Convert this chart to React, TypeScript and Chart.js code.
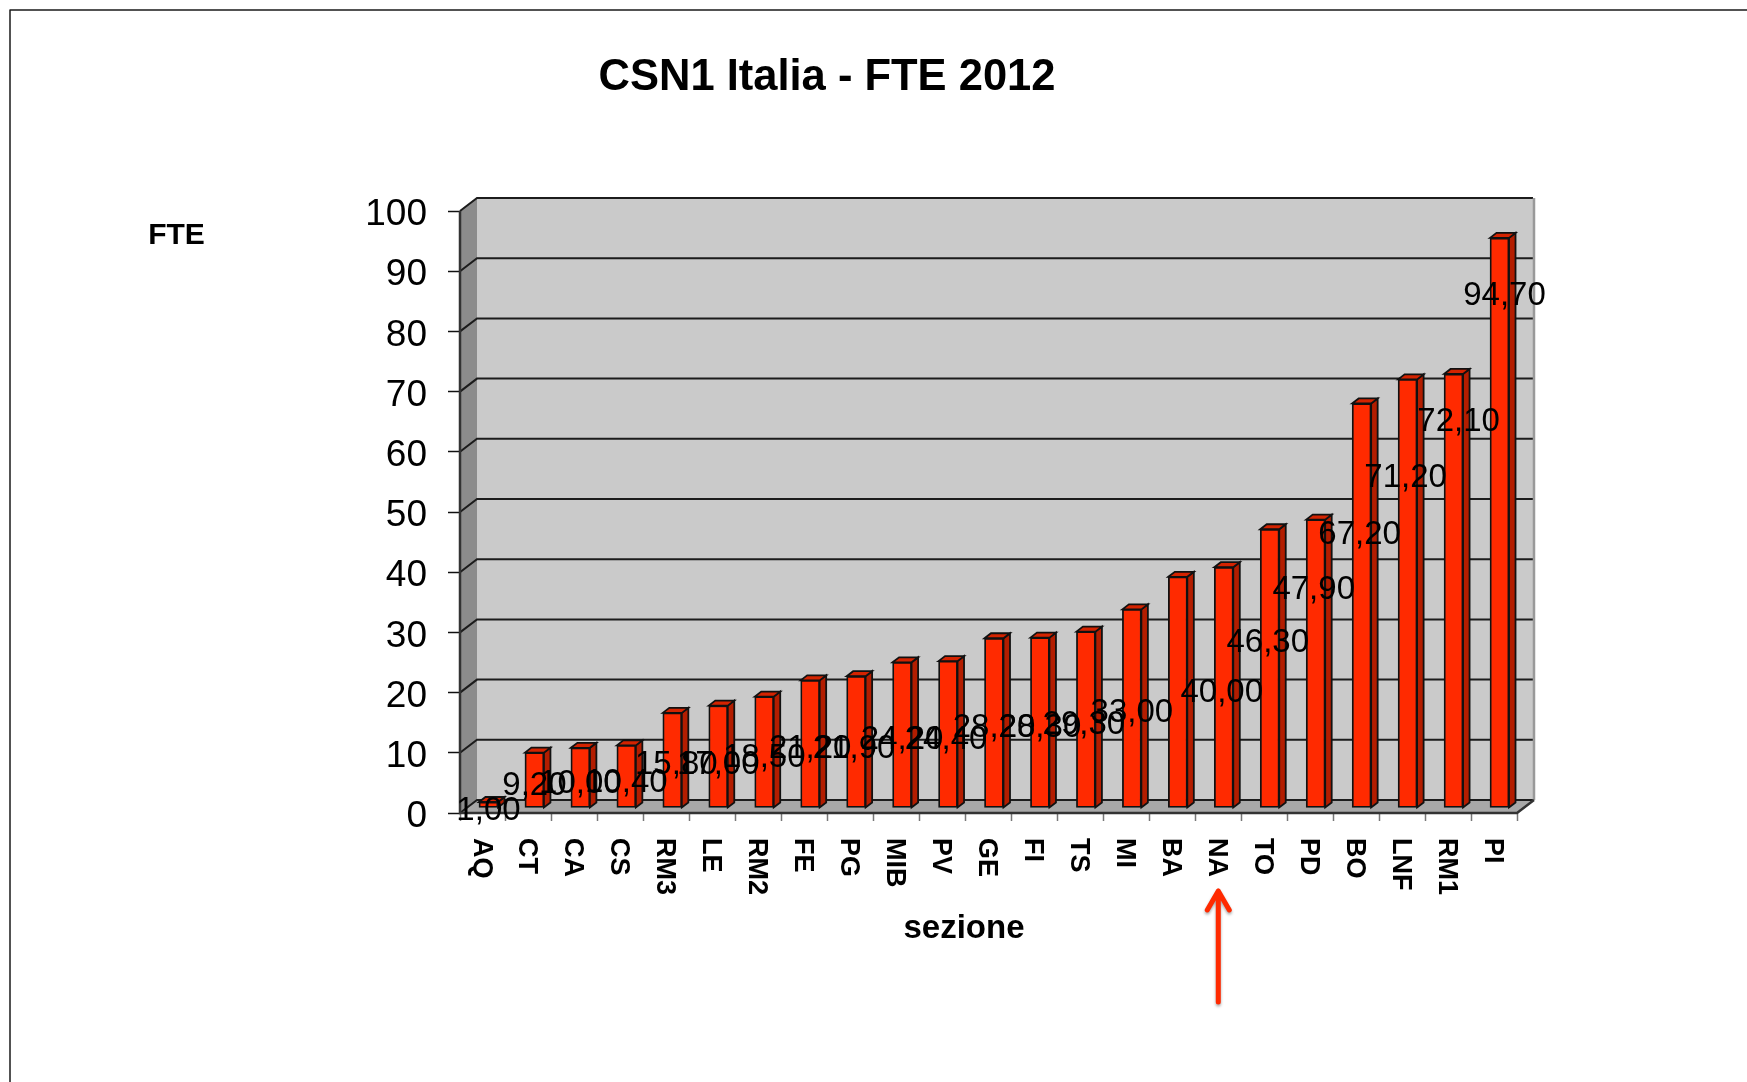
import React, { useEffect, useRef } from "react";
import { Chart, registerables } from "chart.js";

Chart.register(...registerables);

const sections = ["AQ", "CT", "CA", "CS", "RM3", "LE", "RM2", "FE", "PG", "MIB", "PV", "GE", "FI", "TS", "MI", "BA", "NA", "TO", "PD", "BO", "LNF", "RM1", "PI"];
const fte = [1.0, 9.2, 10.0, 10.4, 15.8, 17.0, 18.5, 21.2, 21.9, 24.2, 24.4, 28.2, 28.3, 29.3, 33.0, 38.4, 40.0, 46.3, 47.9, 67.2, 71.2, 72.1, 94.7];
// The BA label is not visible in the reference.
const shownLabels = ["1,00", "9,20", "10,00", "10,40", "15,80", "17,00", "18,50", "21,20", "21,90", "24,20", "24,40", "28,20", "28,30", "29,30", "33,00", null, "40,00", "46,30", "47,90", "67,20", "71,20", "72,10", "94,70"];
// Heights (on the value axis) at which the labels were manually placed in the source.
const labelLevels = [0.6, 4.9, 5.1, 5.4, 8.4, 8.4, 9.5, 10.9, 10.9, 12.4, 12.5, 14.5, 14.5, 14.9, 17.0, null, 20.3, 28.6, 37.4, 46.6, 56.0, 65.3, 86.2];
const labelNudge = [0, 0, 0, 0, 4, 0, 0, 0, -2, 0, -2, 0, 0, -2, 0, 0, -2, -2, -2, -2, -2, 5, 5];

const TITLE = "CSN1 Italia - FTE 2012";
const Y_TITLE = "FTE";
const X_TITLE = "sezione";
const MARKED_SECTION = "NA";

const FONT = '"Liberation Sans", Arial, sans-serif';
const DEPTH_X = 17;
const DEPTH_Y = 13;
const BAR_SHIFT_X = 5.5;
const BAR_SHIFT_Y = 5;
const SIDE_X = 6.5;
const SIDE_Y = 5;
const RED = "#ff2a00";

const scenePlugin = {
  id: "scene",
  beforeDatasetsDraw(chart: any) {
    const { ctx, chartArea: a, scales } = chart;
    const { left: l, right: r, top: t, bottom: b } = a;
    ctx.save();
    // side wall
    ctx.fillStyle = "#8c8c8c";
    ctx.beginPath();
    ctx.moveTo(l, t); ctx.lineTo(l + DEPTH_X, t - DEPTH_Y); ctx.lineTo(l + DEPTH_X, b - DEPTH_Y); ctx.lineTo(l, b); ctx.closePath();
    ctx.fill();
    // back wall
    ctx.fillStyle = "#cacaca";
    ctx.fillRect(l + DEPTH_X, t - DEPTH_Y, r - l, b - t);
    // floor
    ctx.fillStyle = "#a8a8a8";
    ctx.beginPath();
    ctx.moveTo(l, b); ctx.lineTo(l + DEPTH_X, b - DEPTH_Y); ctx.lineTo(r + DEPTH_X, b - DEPTH_Y); ctx.lineTo(r, b); ctx.closePath();
    ctx.fill();
    // grid lines following the walls
    ctx.strokeStyle = "#1c1c1c";
    ctx.lineWidth = 2;
    for (const tick of scales.y.ticks) {
      const y = scales.y.getPixelForValue(tick.value);
      ctx.beginPath();
      ctx.moveTo(l, y); ctx.lineTo(l + DEPTH_X, y - DEPTH_Y); ctx.lineTo(r + DEPTH_X - 1, y - DEPTH_Y);
      ctx.stroke();
    }
    // wall outlines
    ctx.strokeStyle = "#999";
    ctx.lineWidth = 2.5;
    ctx.beginPath();
    ctx.moveTo(r + DEPTH_X, t - DEPTH_Y); ctx.lineTo(r + DEPTH_X, b - DEPTH_Y);
    ctx.stroke();
    ctx.strokeStyle = "#333";
    ctx.beginPath();
    ctx.moveTo(l, t); ctx.lineTo(l, b); ctx.lineTo(r, b); ctx.lineTo(r + DEPTH_X, b - DEPTH_Y);
    ctx.stroke();
    ctx.restore();
  },
  beforeDatasetDraw(chart: any, args: any) {
    const { ctx } = chart;
    ctx.save();
    ctx.translate(BAR_SHIFT_X, -BAR_SHIFT_Y);
    ctx.lineWidth = 1.8;
    ctx.strokeStyle = "#111";
    for (const el of args.meta.data) {
      const { x, y, base, width } = el.getProps(["x", "y", "base", "width"], true);
      const right = x + width / 2;
      const left = x - width / 2;
      ctx.fillStyle = "#b31d00";
      ctx.beginPath();
      ctx.moveTo(right, y); ctx.lineTo(right + SIDE_X, y - SIDE_Y); ctx.lineTo(right + SIDE_X, base - SIDE_Y); ctx.lineTo(right, base); ctx.closePath();
      ctx.fill(); ctx.stroke();
      ctx.fillStyle = "#d42300";
      ctx.beginPath();
      ctx.moveTo(left, y); ctx.lineTo(left + SIDE_X, y - SIDE_Y); ctx.lineTo(right + SIDE_X, y - SIDE_Y); ctx.lineTo(right, y); ctx.closePath();
      ctx.fill(); ctx.stroke();
    }
  },
  afterDatasetDraw(chart: any) {
    chart.ctx.restore();
  },
  afterDatasetsDraw(chart: any) {
    const { ctx, scales } = chart;
    ctx.save();
    // value labels
    ctx.fillStyle = "#000";
    ctx.font = `33px ${FONT}`;
    ctx.textAlign = "center";
    ctx.textBaseline = "middle";
    shownLabels.forEach((text, i) => {
      const level = labelLevels[i];
      if (text === null || level === null) return;
      ctx.fillText(text, scales.x.getPixelForValue(i) + BAR_SHIFT_X + labelNudge[i], scales.y.getPixelForValue(level) + 2);
    });
    // titles
    ctx.font = `bold 43.5px ${FONT}`;
    ctx.fillText(TITLE, 827, 78);
    ctx.font = `bold 30px ${FONT}`;
    ctx.fillText(Y_TITLE, 176.5, 236);
    ctx.font = `bold 33px ${FONT}`;
    ctx.fillText(X_TITLE, 964, 929);
    // arrow pointing at the marked section
    const ax = scales.x.getPixelForValue(sections.indexOf(MARKED_SECTION));
    ctx.strokeStyle = RED;
    ctx.lineWidth = 5;
    ctx.lineCap = "round";
    ctx.lineJoin = "round";
    ctx.shadowColor = "rgba(0,0,0,0.35)";
    ctx.shadowBlur = 3;
    ctx.shadowOffsetY = 2;
    ctx.beginPath();
    ctx.moveTo(ax, 1002); ctx.lineTo(ax, 891);
    ctx.moveTo(ax - 11, 910); ctx.lineTo(ax, 891); ctx.lineTo(ax + 11, 910);
    ctx.stroke();
    ctx.shadowColor = "transparent";
    // slide frame
    ctx.strokeStyle = "#1a1a1a";
    ctx.lineWidth = 1.5;
    ctx.lineCap = "butt";
    ctx.beginPath();
    ctx.moveTo(10, 1082); ctx.lineTo(10, 10); ctx.lineTo(1747, 10);
    ctx.stroke();
    ctx.restore();
  },
};

// Shifts a scale's tick text across its reading direction by a few pixels.
function shiftTickText(s: any, by: number) {
  const compute = s._computeLabelItems;
  s._computeLabelItems = (area: any) =>
    compute.call(s, area).map((item: any) => ({ ...item, textOffset: item.textOffset + by }));
}

export default function App() {
  const ref = useRef<HTMLCanvasElement | null>(null);
  useEffect(() => {
    const chart = new Chart(ref.current as HTMLCanvasElement, {
      type: "bar",
      data: {
        labels: sections,
        datasets: [{
          label: "FTE",
          data: fte,
          backgroundColor: RED,
          borderColor: "#111",
          borderWidth: 1.8,
          borderSkipped: false,
          barThickness: 19,
        }],
      },
      plugins: [scenePlugin],
      options: {
        responsive: false,
        animation: false,
        layout: { padding: { top: 211, right: 230, left: 0, bottom: 0 } },
        plugins: { legend: { display: false }, title: { display: false }, tooltip: { enabled: false } },
        scales: {
          x: {
            type: "category",
            offset: true,
            grid: { offset: true, drawOnChartArea: false, tickLength: 8, tickColor: "#777", tickWidth: 1.5 },
            border: { display: false },
            ticks: {
              autoSkip: false,
              color: "#000",
              padding: 17,
              font: { family: FONT, size: 27, weight: "bold" },
            },
            afterDataLimits(s: any) {
              if (!s._shifted) { s._shifted = true; shiftTickText(s, 2); }
              s._getXAxisLabelAlignment = () => "left";
            },
            afterCalculateLabelRotation(s: any) { s.labelRotation = -90; },
            afterFit(s: any) { s.height = 1082 - 813; },
          },
          y: {
            min: 0,
            max: 100,
            grid: { drawOnChartArea: false, tickLength: 12, tickColor: "#111", tickWidth: 1.5 },
            border: { display: false },
            ticks: {
              stepSize: 10,
              color: "#000",
              padding: 21,
              font: { family: FONT, size: 37 },
            },
            afterDataLimits(s: any) {
              if (!s._shifted) { s._shifted = true; shiftTickText(s, 4); }
            },
            afterFit(s: any) { s.width = 460; },
          },
        },
      },
    } as any);
    return () => chart.destroy();
  }, []);
  return (
    <div style={{ position: "fixed", left: 0, top: 0, width: 1747, height: 1082, background: "#fff" }}>
      <canvas ref={ref} width={1747} height={1082} style={{ display: "block" }} />
    </div>
  );
}
